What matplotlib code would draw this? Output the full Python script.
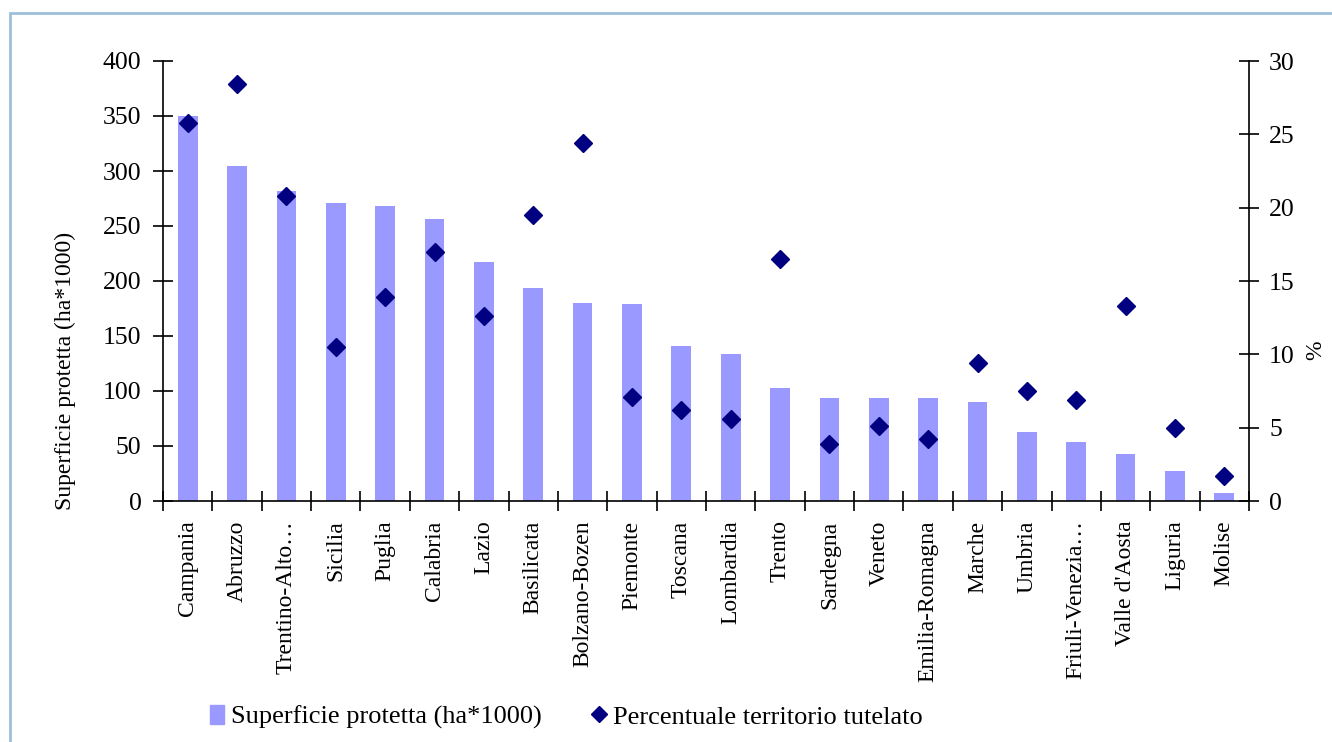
import matplotlib
matplotlib.use("Agg")
import matplotlib.pyplot as plt
from matplotlib.patches import Rectangle
from matplotlib.lines import Line2D
import numpy as np

regions = ["Campania", "Abruzzo", "Trentino-Alto…", "Sicilia", "Puglia", "Calabria",
           "Lazio", "Basilicata", "Bolzano-Bozen", "Piemonte", "Toscana", "Lombardia",
           "Trento", "Sardegna", "Veneto", "Emilia-Romagna", "Marche", "Umbria",
           "Friuli-Venezia…", "Valle d'Aosta", "Liguria", "Molise"]
superficie = [350, 305, 282, 271, 268, 256, 217, 194, 180, 179, 141, 134,
              103, 94, 94, 94, 90, 63, 54, 43, 27, 7]
percentuale = [25.8, 28.4, 20.8, 10.5, 13.9, 17.0, 12.6, 19.5, 24.4, 7.1, 6.2, 5.6,
               16.5, 3.9, 5.1, 4.2, 9.4, 7.5, 6.9, 13.3, 5.0, 1.7]
left_ticks = [0, 50, 100, 150, 200, 250, 300, 350, 400]
right_ticks = [0, 5, 10, 15, 20, 25, 30]

plt.rcParams["font.family"] = ["Liberation Serif", "DejaVu Serif"]
FS = 17
TICK_FS = 18.5
LEG_FS = 19

fig = plt.figure(figsize=(13.32, 7.42), dpi=100)
fig.patches.append(Rectangle((10 / 1332, -0.05), 1.2, 1 - 13 / 742 + 0.05,
                             transform=fig.transFigure, fill=False,
                             edgecolor="#9DC0DA", linewidth=2))

ax = fig.add_axes([163 / 1332, 1 - 501 / 742, (1249 - 163) / 1332, (501 - 61) / 742])
x = np.arange(len(regions))
ax.bar(x, superficie, width=0.4, color="#9999FF", zorder=1)
ax.set_xlim(-0.5, len(regions) - 0.5)
ax.set_ylim(0, 400)
ax.set_yticks(left_ticks)
ax.set_yticklabels([str(v) for v in left_ticks], fontsize=TICK_FS)
ax.set_xticks(x)
ax.set_xticklabels(regions, rotation=90, fontsize=FS)
ax.tick_params(axis="x", length=0, pad=14)
ax.set_xticks(np.arange(len(regions) + 1) - 0.5, minor=True)
ax.tick_params(axis="x", which="minor", direction="inout", length=15, width=1.2)
ax.tick_params(axis="y", direction="inout", length=15, width=1.2, pad=8)
ax.spines["top"].set_visible(False)
ax.spines["right"].set_visible(False)
for s in ("left", "bottom"):
    ax.spines[s].set_linewidth(1.2)
ax.set_ylabel("Superficie protetta (ha*1000)", fontsize=FS)
ax.yaxis.set_label_coords((76 - 163) / 1086, (501 - 371) / 440)

ax2 = ax.twinx()
ax2.plot(x, percentuale, linestyle="none", marker="D", markersize=9.5,
         color="#000080", zorder=3)
ax2.set_ylim(0, 30)
ax2.set_yticks(right_ticks)
ax2.set_yticklabels([str(v) for v in right_ticks], fontsize=TICK_FS)
ax2.tick_params(axis="y", direction="inout", length=15, width=1.2, pad=7)
for s in ("top", "left", "bottom"):
    ax2.spines[s].set_visible(False)
ax2.spines["right"].set_linewidth(1.2)
ax2.set_ylabel("%", fontsize=FS)
ax2.yaxis.set_label_coords((1305 - 163) / 1086, (501 - 350) / 440)

handles = [Rectangle((0, 0), 1, 1, color="#9999FF"),
           Line2D([], [], linestyle="none", marker="D", markersize=8, color="#000080")]
fig.legend(handles, ["Superficie protetta (ha*1000)", "Percentuale territorio tutelato"],
           loc="center", bbox_to_anchor=(566 / 1332, 1 - 717 / 742), ncol=2,
           frameon=False, fontsize=LEG_FS, handlelength=0.55, handletextpad=0.25,
           columnspacing=1.9)

fig.savefig("out.png", dpi=100)
